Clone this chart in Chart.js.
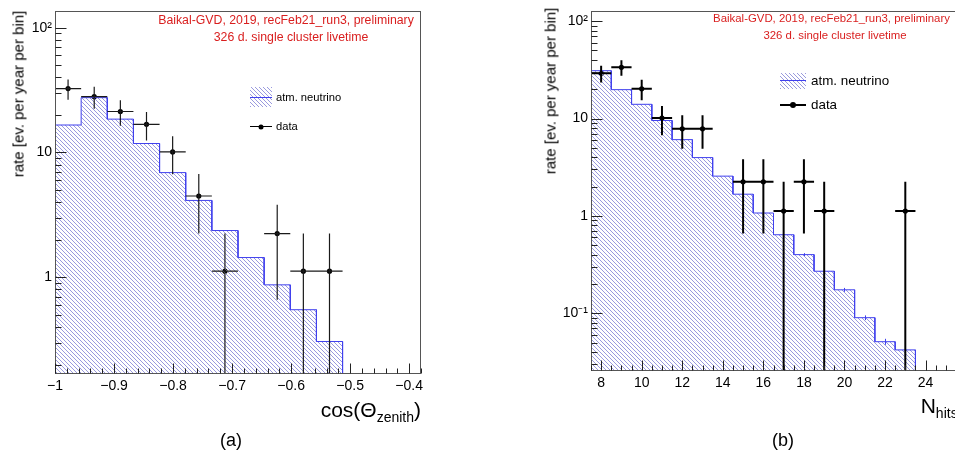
<!DOCTYPE html>
<html>
<head>
<meta charset="utf-8">
<title>Baikal-GVD cascade rates</title>
<script src="https://cdn.jsdelivr.net/npm/chart.js@4.4.1/dist/chart.umd.min.js"></script>
<style>
  html, body { margin: 0; padding: 0; background: #fff; }
  body { position: relative; width: 955px; height: 454px; overflow: hidden;
         font-family: "Liberation Sans", Arial, Helvetica, sans-serif; color: #000; }
  canvas { position: absolute; top: 0; }
  #cA { left: 0; }
  #cB { left: 480px; }
  .t { position: absolute; white-space: nowrap; line-height: 1; }
  .c { transform: translate(-50%, -50%); }
  .l { transform: translateY(-50%); }
  .red { color: #d91e1e; }
  .ytitle { transform: translate(-50%, -50%) rotate(-90deg); font-size: 15px; }
  .hatch { position: absolute; background: repeating-linear-gradient(45deg, #9a9ade 0 1px, transparent 1px 2.83px); }
  .bl { position: absolute; height: 1px; background: #4040ee; }
  .dl { position: absolute; background: #000; }
  .dot { position: absolute; width: 6px; height: 6px; border-radius: 50%; background: #000; transform: translate(-50%, -50%); }
  .sub { font-size: 14px; position: relative; top: 5px; }
</style>
</head>
<body>
<canvas id="cA" width="480" height="454"></canvas>
<canvas id="cB" width="480" height="454"></canvas>

<!-- (a) -->
<div class="t c red" style="left:286px;top:20px;font-size:12.3px">Baikal-GVD, 2019, recFeb21_run3, preliminary</div>
<div class="t c red" style="left:291px;top:37px;font-size:12.3px">326 d. single cluster livetime</div>
<div class="hatch" style="left:250px;top:87px;width:22px;height:20px"></div>
<div class="bl" style="left:250px;top:97px;width:22px"></div>
<div class="t l" style="left:276px;top:98px;font-size:11.2px">atm. neutrino</div>
<div class="dl" style="left:250px;top:126px;width:22px;height:1px"></div>
<div class="dot" style="left:261px;top:126.5px;width:5px;height:5px"></div>
<div class="t l" style="left:276px;top:127px;font-size:11.2px">data</div>
<div class="t ytitle" style="left:18px;top:93.5px">rate [ev. per year per bin]</div>
<div class="t" style="right:534px;top:399px;font-size:21px">cos(Θ<span class="sub">zenith</span>)</div>
<div class="t c" style="left:231px;top:440px;font-size:18px">(a)</div>

<!-- (b) -->
<div class="t c red" style="left:831.5px;top:19px;font-size:11.4px">Baikal-GVD, 2019, recFeb21_run3, preliminary</div>
<div class="t c red" style="left:835px;top:36px;font-size:11.4px">326 d. single cluster livetime</div>
<div class="hatch" style="left:780px;top:73px;width:26px;height:16px"></div>
<div class="bl" style="left:780px;top:80px;width:26px"></div>
<div class="t l" style="left:811px;top:81px;font-size:13.4px">atm. neutrino</div>
<div class="dl" style="left:780px;top:104px;width:26px;height:2px"></div>
<div class="dot" style="left:793px;top:105px"></div>
<div class="t l" style="left:811px;top:105px;font-size:13.4px">data</div>
<div class="t ytitle" style="left:550px;top:91px">rate [ev. per year per bin]</div>
<div class="t" style="left:920.7px;top:395px;font-size:21px">N<span class="sub">hits</span></div>
<div class="t c" style="left:783px;top:440px;font-size:18px">(b)</div>

<script>
// --- panel (a): cos(zenith) distribution ---
const xRangeA = [-1, -0.38];
const nBinsA = 14;
const mcA   = [16.6, 27.5, 18.5, 11.8, 6.9, 4.13, 2.37, 1.44, 0.87, 0.55, 0.306, 0, 0, 0];
const dataA = [32.5, 28.0, 21.3, 16.8, 10.1, 4.48, 1.12, 0, 2.24, 1.12, 1.12, 0, 0, 0];
const errA  = [6.0, 5.6, 4.9, 4.3, 3.4, 2.24, 1.12, 0, 1.58, 1.12, 1.12, 0, 0, 0];
const yRangeA = [0.168, 135];
const xTickValsA = [-1, -0.9, -0.8, -0.7, -0.6, -0.5, -0.4];
const xTickLabelsA = ['−1', '−0.9', '−0.8', '−0.7', '−0.6', '−0.5', '−0.4'];

// --- panel (b): Nhits distribution ---
const xRangeB = [7.5, 25.5];
const nBinsB = 18;
const mcB    = [31.0, 19.8, 14.0, 9.55, 6.07, 3.97, 2.56, 1.67, 1.07, 0.64, 0.40, 0.27, 0.174, 0.090, 0.051, 0.042, 0, 0];
const mcErrB = [0, 0, 0, 0, 0, 0, 0, 0, 0, 0, 0.014, 0.01, 0.008, 0.005, 0.0036, 0.003, 0, 0];
const dataB  = [29.1, 33.6, 20.2, 10.1, 7.84, 7.84, 0, 2.24, 2.24, 1.12, 2.24, 1.12, 0, 0, 0, 1.12, 0, 0];
const errB   = [5.7, 6.1, 4.75, 3.36, 2.96, 2.96, 0, 1.58, 1.58, 1.12, 1.58, 1.12, 0, 0, 0, 1.12, 0, 0];
const yRangeB = [0.0255, 126];
const xTickValsB = [8, 10, 12, 14, 16, 18, 20, 22, 24];
const xTickLabelsB = ['8', '10', '12', '14', '16', '18', '20', '22', '24'];

const decadeVals = [0.1, 1, 10, 100];
const decadeLabels = ['10⁻¹', '1', '10', '10²'];

Chart.defaults.font.family = '"Liberation Sans", Arial, Helvetica, sans-serif';

// ROOTっぽい斜線ハッチ
function makeHatch(color) {
  const c = document.createElement('canvas');
  c.width = 4; c.height = 4;
  const g = c.getContext('2d');
  g.fillStyle = color;
  for (let i = 0; i < 4; i++) g.fillRect(i, i, 1, 1);
  return g.createPattern(c, 'repeat');
}

// histogram outline as step points (bin edges), dropping to the axis after the last filled bin
function histPoints(range, n, vals, yMin) {
  const w = (range[1] - range[0]) / n;
  let last = -1;
  vals.forEach((v, i) => { if (v > 0) last = i; });
  const pts = [];
  for (let i = 0; i <= last; i++) {
    pts.push({ x: range[0] + i * w, y: vals[i] }, { x: range[0] + (i + 1) * w, y: vals[i] });
  }
  pts.push({ x: range[0] + (last + 1) * w, y: yMin });
  return pts;
}

function dataPoints(range, n, vals) {
  const w = (range[1] - range[0]) / n;
  return vals.map((v, i) => v > 0 ? { x: range[0] + (i + 0.5) * w, y: v } : null).filter(p => p);
}

// error bars (data) and small MC stat errors, drawn after the histogram and before the markers
function makeErrBars(cfg) {
  return {
    id: 'errBars',
    afterDatasetDraw(chart, args) {
      if (args.index !== 0) return;
      const { ctx, chartArea: a, scales: { x, y } } = chart;
      const w = (cfg.range[1] - cfg.range[0]) / cfg.n;
      ctx.save();
      ctx.beginPath();
      ctx.rect(a.left, a.top, a.right - a.left, a.bottom - a.top);
      ctx.clip();
      if (cfg.mcErr) {
        ctx.strokeStyle = '#4040ee';
        ctx.lineWidth = 1;
        ctx.beginPath();
        cfg.mc.forEach((v, i) => {
          if (!(v > 0) || !cfg.mcErr[i]) return;
          const xc = Math.round(x.getPixelForValue(cfg.range[0] + (i + 0.5) * w)) + 0.5;
          ctx.moveTo(xc, y.getPixelForValue(v + cfg.mcErr[i]));
          ctx.lineTo(xc, y.getPixelForValue(v - cfg.mcErr[i]));
        });
        ctx.stroke();
      }
      ctx.strokeStyle = cfg.color;
      ctx.lineWidth = cfg.width;
      ctx.beginPath();
      cfg.vals.forEach((v, i) => {
        if (!(v > 0)) return;
        const xc = x.getPixelForValue(cfg.range[0] + (i + 0.5) * w);
        const yc = y.getPixelForValue(v);
        const top = y.getPixelForValue(v + cfg.errs[i]);
        const bot = v - cfg.errs[i] > 1e-9 ? y.getPixelForValue(v - cfg.errs[i]) : a.bottom;
        ctx.moveTo(xc, top);
        ctx.lineTo(xc, bot);
        ctx.moveTo(x.getPixelForValue(cfg.range[0] + i * w), yc);
        ctx.lineTo(x.getPixelForValue(cfg.range[0] + (i + 1) * w), yc);
      });
      ctx.stroke();
      ctx.restore();
    }
  };
}

// frame + inward ticks like ROOT
function makeFrame(cfg) {
  return {
    id: 'rootFrame',
    afterDraw(chart) {
      const { ctx, chartArea: a, scales: { x, y } } = chart;
      const L = Math.round(a.left) + 0.5, R = Math.round(a.right) - 0.5;
      const T = Math.round(a.top) + 0.5, B = Math.round(a.bottom) - 0.5;
      ctx.save();
      ctx.strokeStyle = '#555';
      ctx.lineWidth = 1;
      ctx.strokeRect(L, T, R - L, B - T);
      ctx.strokeStyle = '#222';
      ctx.beginPath();
      for (let i = 0; ; i++) {
        const v = x.min + i * cfg.xMinor;
        if (v > x.max + 1e-9) break;
        const px = Math.round(x.getPixelForValue(v)) + 0.5;
        const major = cfg.xMajor.some(m => Math.abs(m - v) < 1e-6);
        ctx.moveTo(px, B);
        ctx.lineTo(px, B - (major ? 10 : 5));
      }
      const d0 = Math.floor(Math.log10(y.min)), d1 = Math.ceil(Math.log10(y.max));
      for (let d = d0; d <= d1; d++) {
        for (let m = 1; m < 10; m++) {
          const v = m * Math.pow(10, d);
          if (v < y.min || v > y.max) continue;
          const py = Math.round(y.getPixelForValue(v)) + 0.5;
          ctx.moveTo(L, py);
          ctx.lineTo(L + (m === 1 ? 11 : 6), py);
        }
      }
      ctx.stroke();
      ctx.restore();
    }
  };
}

function renderPanel(id, p) {
  const ctx = document.getElementById(id).getContext('2d');
  return new Chart(ctx, {
    type: 'line',
    data: {
      datasets: [{
        label: 'atm. neutrino',
        data: histPoints(p.range, p.n, p.mc, p.yRange[0]),
        borderColor: '#4040ee',
        borderWidth: 1,
        backgroundColor: makeHatch('#9a9ade'),
        fill: 'start',
        pointRadius: 0,
        tension: 0
      }, {
        label: 'data',
        data: dataPoints(p.range, p.n, p.data),
        showLine: false,
        pointRadius: p.markerR,
        pointBorderWidth: 0,
        pointBackgroundColor: '#000',
        borderColor: '#000'
      }]
    },
    options: {
      responsive: false,
      animation: false,
      devicePixelRatio: 1,
      layout: { padding: { top: 8, right: p.padRight, left: 0, bottom: 0 } },
      plugins: { legend: { display: false }, tooltip: { enabled: false } },
      scales: {
        x: {
          type: 'linear',
          min: p.range[0], max: p.range[1],
          grid: { display: false, drawTicks: false },
          border: { display: false },
          ticks: {
            stepSize: p.xMinor, autoSkip: false, maxRotation: 0, padding: 4,
            font: { size: 14 }, color: '#000',
            callback: v => {
              const k = p.xTickVals.findIndex(t => Math.abs(t - v) < 1e-6);
              return k >= 0 ? p.xTickLabels[k] : null;
            }
          },
          afterFit: s => { s.height = p.xAxisH; }
        },
        y: {
          type: 'logarithmic',
          min: p.yRange[0], max: p.yRange[1],
          grid: { display: false, drawTicks: false },
          border: { display: false },
          ticks: {
            autoSkip: false, padding: 3, font: { size: 14 }, color: '#000',
            callback: v => {
              const k = decadeVals.findIndex(d => Math.abs(v / d - 1) < 1e-6);
              return k >= 0 ? decadeLabels[k] : null;
            }
          },
          afterFit: s => { s.width = p.yAxisW; }
        }
      }
    },
    plugins: [
      makeErrBars({ range: p.range, n: p.n, vals: p.data, errs: p.err, color: p.errColor, width: p.errWidth, mc: p.mc, mcErr: p.mcErr }),
      makeFrame({ xMinor: p.xMinor, xMajor: p.xTickVals })
    ]
  });
}

renderPanel('cA', {
  range: xRangeA, n: nBinsA, mc: mcA, data: dataA, err: errA, mcErr: null,
  yRange: yRangeA, xTickVals: xTickValsA, xTickLabels: xTickLabelsA, xMinor: 0.02,
  yAxisW: 55, xAxisH: 80, padRight: 59, markerR: 2.6, errColor: '#1a1a1a', errWidth: 1.2
});

renderPanel('cB', {
  range: xRangeB, n: nBinsB, mc: mcB, data: dataB, err: errB, mcErr: mcErrB,
  yRange: yRangeB, xTickVals: xTickValsB, xTickLabels: xTickLabelsB, xMinor: 0.5,
  yAxisW: 111, xAxisH: 83, padRight: 4, markerR: 2.6, errColor: '#000', errWidth: 2
});
</script>
</body>
</html>
